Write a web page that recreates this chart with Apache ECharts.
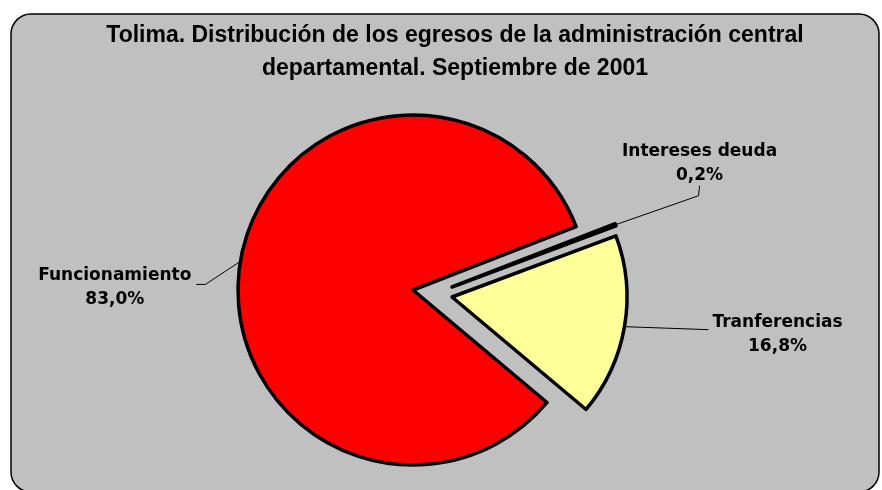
<!DOCTYPE html>
<html><head><meta charset="utf-8">
<script src="https://cdn.jsdelivr.net/npm/echarts@6/dist/echarts.min.js"></script>
<style>html,body{margin:0;padding:0;background:#fff;}#chart{width:882px;height:490px;}</style>
</head><body><div id="chart"></div>
<script>
// ---- data ----
const titleLines = ['Tolima. Distribución de los egresos de la administración central', 'departamental. Septiembre de 2001'];
const categories = ['Funcionamiento', 'Intereses deuda', 'Tranferencias'];
const shares = [83.0, 0.2, 16.8];

// ---- styles / layout ----
const sliceColors = ['#FF0000', '#000000', '#FFFF99'];
const explode = [[0, 0], [39, -3], [39, 7]];
const pieCenter = [413, 290];
const pieRadius = 175;
const startAngle = 320;

function fmt(v) { return v.toFixed(1).replace('.', ',') + '%'; }

const labelPlacement = [
  function (e) { const b = [e[0] - 35, e[1] + 23]; const end = [b[0] - 9, b[1]];
    return { x: end[0] - 5, y: end[1] + 3, align: 'right', verticalAlign: 'middle', labelLinePoints: [e, b, end] }; },
  function (e) { const b = [e[0] + 83, e[1] - 29]; const end = [b[0] + 1, b[1] - 10];
    return { x: end[0], y: end[1] + 2, align: 'center', verticalAlign: 'bottom', labelLinePoints: [e, b, end] }; },
  function (e) { const b = [e[0] + 42, e[1] + 1.5]; const end = [e[0] + 84, e[1] + 3];
    return { x: end[0] + 4, y: end[1] + 5, align: 'left', verticalAlign: 'middle', labelLinePoints: [e, b, end] }; }
];

const series = categories.map(function (owner, k) {
  return {
    type: 'pie',
    name: owner,
    center: [pieCenter[0] + explode[k][0], pieCenter[1] + explode[k][1]],
    radius: pieRadius,
    startAngle: startAngle,
    clockwise: true,
    silent: true,
    animation: false,
    avoidLabelOverlap: false,
    emphasis: { disabled: true },
    label: {
      show: true,
      position: 'outside',
      formatter: function (p) { return '{t|' + p.name + '}\n{t|' + fmt(p.value) + '}'; },
      rich: { t: { align: 'center', fontFamily: 'DejaVu Sans', fontWeight: 'bold', fontSize: 17, lineHeight: 24, color: '#000' } }
    },
    labelLine: { show: true, length: 10, length2: 10, lineStyle: { color: '#000', width: 1 } },
    labelLayout: function (params) {
      if (params.dataIndex !== k || !params.labelLinePoints) return {};
      return labelPlacement[k](params.labelLinePoints[0]);
    },
    data: categories.map(function (c, i) {
      return {
        name: c,
        value: shares[i],
        itemStyle: i === k ? { color: sliceColors[i], borderColor: '#000', borderWidth: 3.5 }
                           : { color: 'rgba(0,0,0,0)', borderWidth: 0 },
        label: { show: i === k },
        labelLine: { show: i === k }
      };
    })
  };
});

const chart = echarts.init(document.getElementById('chart'), null, { renderer: 'canvas' });
chart.setOption({
  backgroundColor: '#FFFFFF',
  animation: false,
  graphic: [{
    type: 'rect', z: -10, silent: true,
    shape: { x: 11, y: 14, width: 868, height: 478, r: 20 },
    style: { fill: '#C0C0C0', stroke: '#000', lineWidth: 1.5 }
  }],
  title: {
    text: titleLines.join('\n'),
    left: 455, top: 19, textAlign: 'center', padding: 0,
    textStyle: { fontFamily: 'Liberation Sans, Arial', fontWeight: 'bold', fontSize: 23, lineHeight: 33, color: '#000' }
  },
  series: series
});
</script>
</body></html>
